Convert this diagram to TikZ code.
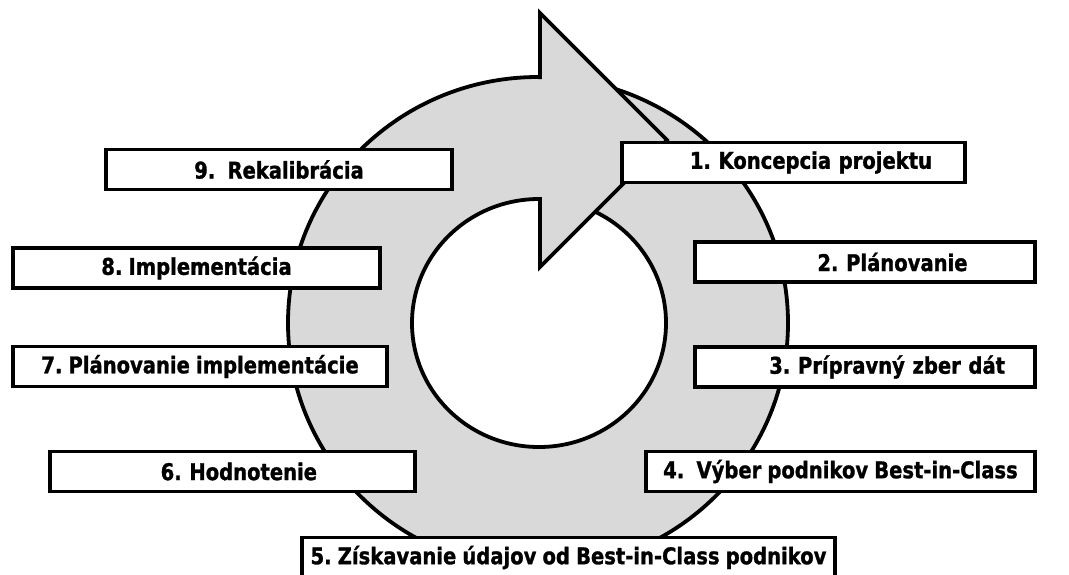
\documentclass[tikz,border=0pt]{standalone}
\usepackage{fontspec}
\newfontfamily\stagefont{DejaVu Sans}[FakeStretch=0.85,WordSpace=0.9,BoldFeatures={FakeBold=1.2}]
\usepackage{tikz}
\usetikzlibrary{positioning,calc}
\definecolor{ringgray}{RGB}{217,217,217}
\frenchspacing
\tikzset{
    stage/.style={
        draw=black,line width=3.4pt,fill=white,
        minimum height=40pt,inner sep=0pt,
        font=\stagefont\bfseries\fontsize{23}{26}\selectfont
    },
    outline/.style={
        draw=black,line width=3.8pt,line join=miter
    }
}

\begin{document}
\begin{tikzpicture}[x=1pt,y=-1pt]
\useasboundingbox (0,0) rectangle (1069,574);

\draw[outline,fill=ringgray,even odd rule]
(538,323) ellipse [x radius=250pt,y radius=246pt]
(539,323) ellipse [x radius=127pt,y radius=124pt];

\fill[ringgray](540,78)--(540,13)--(667,140)--(540,267)--(540,198)--cycle;
\draw[outline](540,79)--(540,13)--(667,140)--(540,267)--(540,197);

\node[stage,minimum width=343pt,text width=277pt,align=right]
(b1) at (793.5,162.5) {1. Koncepcia projektu};

\node[stage,minimum width=340pt,text width=205pt,align=right]
(b2) at (865,262) {2. Plánovanie};

\node[stage,minimum width=340pt,text width=280pt,align=right]
(b3) at (865,367) {3. Prípravný zber dát};

\node[stage,minimum width=389pt]
(b4) at (840.5,471.5) {4.\ \ Výber podnikov Best-in-Class};

\node[stage,minimum width=533pt]
(b5) at (568.5,557.5) {5. Získavanie údajov od Best-in-Class podnikov};

\node[stage,minimum width=365pt,text width=169pt,align=right]
(b6) at (232.5,471.5) {6. Hodnotenie};

\node[stage,minimum width=374pt]
(b7) at (200,366.5) {7. Plánovanie implementácie};

\node[stage,minimum width=367pt]
(b8) at (196.5,268) {8. Implementácia};

\node[stage,minimum width=346pt]
(b9) at (279,169.5) {9.\ \ Rekalibrácia};

\end{tikzpicture}
\end{document}
